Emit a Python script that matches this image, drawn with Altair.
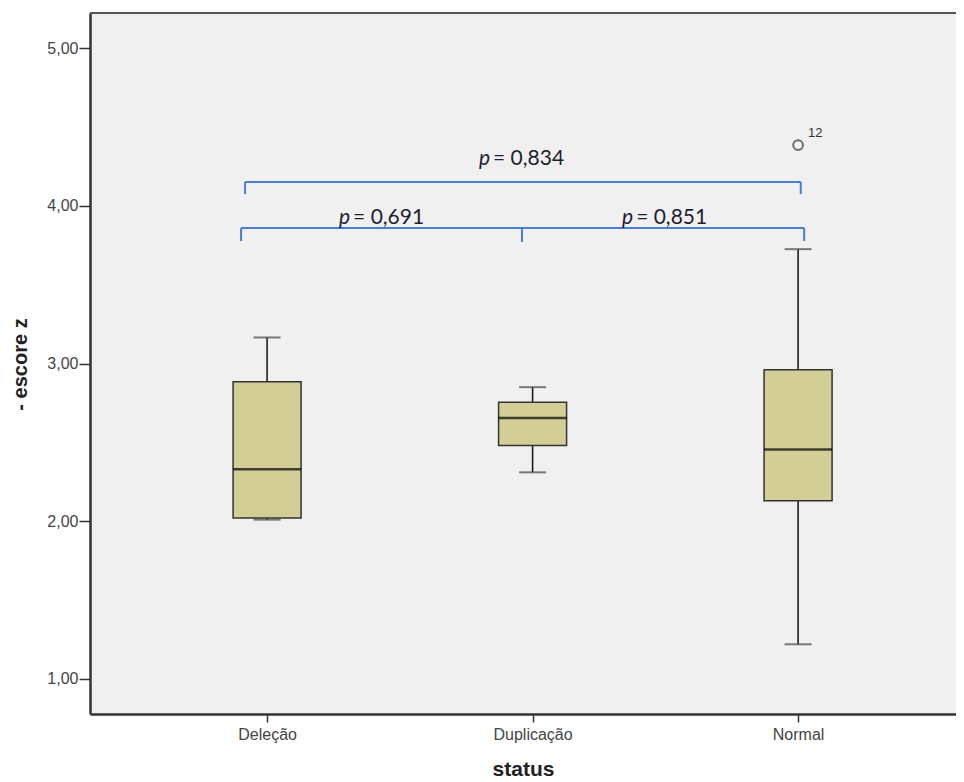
import altair as alt
import pandas as pd

# ---- data ----
categories = ["Deleção", "Duplicação", "Normal"]
cat_index = [0, 1, 2]
whisker_low = [2.01, 2.31, 1.22]
q1 = [2.02, 2.48, 2.13]
median = [2.33, 2.655, 2.455]
q3 = [2.885, 2.755, 2.96]
whisker_high = [3.165, 2.85, 3.725]

outlier_cat = [2]
outlier_val = [4.385]
outlier_label = ["12"]

# significance brackets (x in category units, y in score units)
bracket_h_x1 = [-0.083, -0.098]
bracket_h_x2 = [2.010, 2.023]
bracket_h_y = [4.151, 3.859]
bracket_v_x = [-0.083, 2.010, -0.098, 0.960, 2.023]
bracket_v_top = [4.151, 4.151, 3.859, 3.859, 3.859]
bracket_v_bottom = [4.074, 4.074, 3.777, 3.770, 3.777]

p_symbol = ["p", "p", "p"]
p_values = ["= 0,834", "= 0,691", "= 0,851"]
p_x = [0.851, 0.324, 1.390]
p_y = [4.258, 3.884, 3.884]

y_ticks = [1, 2, 3, 4, 5]

# ---- tables ----
boxes = pd.DataFrame({"cat": cat_index, "lo": whisker_low, "q1": q1,
                      "med": median, "q3": q3, "hi": whisker_high})
outl = pd.DataFrame({"cat": outlier_cat, "v": outlier_val, "lab": outlier_label})
bh = pd.DataFrame({"x1": bracket_h_x1, "x2": bracket_h_x2, "y": bracket_h_y})
bv = pd.DataFrame({"x": bracket_v_x, "y1": bracket_v_top, "y2": bracket_v_bottom})
pt = pd.DataFrame({"x": p_x, "y": p_y, "p": p_symbol, "t": p_values})

W, H = 866, 701
# 265.5 px per category step; plot starts 177 px left of the first category
xscale = alt.Scale(domain=[-0.667, -0.667 + W / 265.5], nice=False, zero=False, padding=0)
yscale = alt.Scale(domain=[0.778, 5.222], nice=False, zero=False, padding=0)

label_expr = "[" + ",".join("'%s'" % c for c in categories) + "][datum.value]"

xaxis = alt.Axis(values=cat_index, labelExpr=label_expr, title="status",
                 grid=False, tickSize=8, tickColor="#333", tickWidth=1.5,
                 domainColor="#333", domainWidth=2.5,
                 labelFont="Liberation Sans", labelFontSize=16, labelColor="#444",
                 labelPadding=4,
                 titleFont="Liberation Sans", titleFontSize=21, titleFontWeight="bold",
                 titleColor="#222", titleY=61, titleBaseline="alphabetic")
yaxis = alt.Axis(values=y_ticks,
                 labelExpr="replace(format(datum.value, '.2f'), '.', ',')",
                 title="- escore z", grid=False, tickSize=11, tickColor="#333",
                 tickWidth=1.5, domainColor="#333", domainWidth=2.5,
                 labelFont="Liberation Sans", labelFontSize=16, labelColor="#444",
                 labelPadding=1,
                 titleFont="Liberation Sans", titleFontSize=20, titleFontWeight="bold",
                 titleColor="#222", titleX=-64, titleY=351, titleAngle=270,
                 titleBaseline="alphabetic", titleAlign="center")

X = alt.X("cat:Q", scale=xscale, axis=xaxis)
Y = alt.Y("lo:Q", scale=yscale, axis=yaxis)

whiskers = alt.Chart(boxes).mark_rule(color="#111", strokeWidth=1.5).encode(
    x=X, y=Y, y2="hi:Q")
caps_lo = alt.Chart(boxes).mark_tick(color="#444", size=27, thickness=2,
                                     orient="horizontal").encode(
    x=alt.X("cat:Q", scale=xscale), y=alt.Y("lo:Q", scale=yscale))
caps_hi = alt.Chart(boxes).mark_tick(color="#444", size=27, thickness=2,
                                     orient="horizontal").encode(
    x=alt.X("cat:Q", scale=xscale), y=alt.Y("hi:Q", scale=yscale))
box = alt.Chart(boxes).mark_bar(size=68, orient="vertical", fill="#D3CE96",
                                stroke="#333", strokeWidth=1.5).encode(
    x=alt.X("cat:Q", scale=xscale), y=alt.Y("q1:Q", scale=yscale), y2="q3:Q")
med = alt.Chart(boxes).mark_tick(color="#000", size=68, thickness=2.5,
                                 orient="horizontal").encode(
    x=alt.X("cat:Q", scale=xscale), y=alt.Y("med:Q", scale=yscale))

out_pt = alt.Chart(outl).mark_point(shape="circle", filled=False, size=95,
                                    color="#333", strokeWidth=2).encode(
    x=alt.X("cat:Q", scale=xscale), y=alt.Y("v:Q", scale=yscale))
out_lab = alt.Chart(outl).mark_text(font="Liberation Sans", fontSize=13,
                                    color="#333", align="left", dx=10, dy=-12,
                                    baseline="middle").encode(
    x=alt.X("cat:Q", scale=xscale), y=alt.Y("v:Q", scale=yscale), text="lab:N")

br_h = alt.Chart(bh).mark_rule(color="#4A7CD0", strokeWidth=2).encode(
    x=alt.X("x1:Q", scale=xscale), x2="x2:Q", y=alt.Y("y:Q", scale=yscale))
br_v = alt.Chart(bv).mark_rule(color="#4A7CD0", strokeWidth=2).encode(
    x=alt.X("x:Q", scale=xscale), y=alt.Y("y1:Q", scale=yscale), y2="y2:Q")

p_it = alt.Chart(pt).mark_text(font="Lato", fontSize=21, fontStyle="italic",
                               color="#1e1e30", align="right", dx=-3,
                               baseline="alphabetic").encode(
    x=alt.X("x:Q", scale=xscale), y=alt.Y("y:Q", scale=yscale), text="p:N")
p_tx = alt.Chart(pt).mark_text(font="Lato", fontSize=21, color="#1e1e30",
                               align="left", baseline="alphabetic").encode(
    x=alt.X("x:Q", scale=xscale), y=alt.Y("y:Q", scale=yscale), text="t:N")

top_border = alt.Chart(boxes).mark_rule(color="#555", strokeWidth=2).encode(
    x=alt.value(0), x2=alt.value(W), y=alt.value(0))

chart = alt.layer(whiskers, caps_lo, caps_hi, box, med, out_pt, out_lab,
                  br_h, br_v, p_it, p_tx, top_border).properties(
    width=W, height=H,
    autosize=alt.AutoSizeParams(type="none"),
    padding={"left": 82, "top": 5, "right": 0, "bottom": 64},
    background="white",
).configure_view(fill="#F0F0F0", stroke=None)

chart.save("out.html", embed_options={"renderer": "svg", "actions": False})
